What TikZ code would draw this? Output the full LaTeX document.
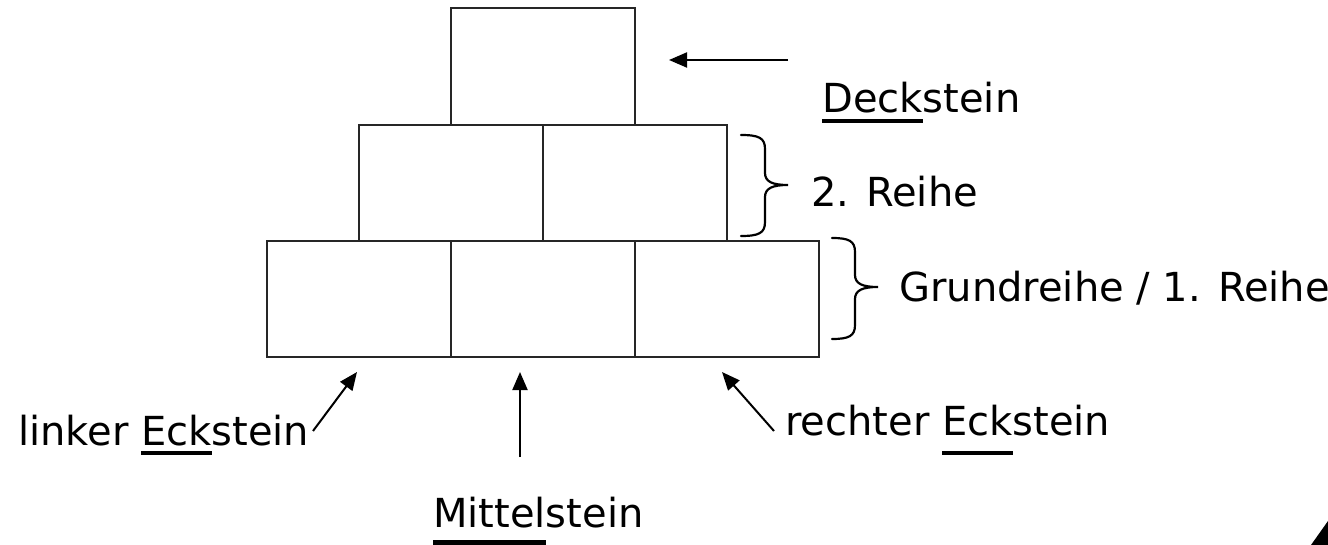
\documentclass[tikz,border=0pt]{standalone}
\usepackage{fontspec}
\setmainfont{DejaVu Sans}
\usetikzlibrary{arrows.meta}
\newcommand\ulx[3]{\leavevmode\setbox0\hbox{#3}\rlap{\rule[-#1]{\wd0}{#2}}\box0}
\newcommand\bracepath[6]{%
  \draw[bracestyle] (#1,#4) .. controls (#2-6,#4) and (#2,#4+3) .. (#2,#4+14)
    -- (#2,#5-12) .. controls (#2,#5-3) and (#2+8,#5) .. (#3,#5)
    .. controls (#2+8,#5) and (#2,#5+3) .. (#2,#5+12)
    -- (#2,#6-14) .. controls (#2,#6-3) and (#2-6,#6) .. (#1,#6);}
\begin{document}
\begin{tikzpicture}[x=1pt,y=-1pt,
  brick/.style={draw=black!85, line width=1.6pt, minimum width=184pt, minimum height=116pt, inner sep=0pt, outer sep=0pt},
  lbl/.style={anchor=base west, inner sep=0pt, font=\fontsize{40}{48}\selectfont},
  arr/.style={line width=2pt, -{Triangle[length=18pt,width=15pt]}},
  bracestyle/.style={line width=2.2pt, line cap=round}]
\useasboundingbox (0,0) rectangle (1328,545);
% bricks
\node[brick, minimum height=117pt] (top) at (543,66.5) {};
\node[brick] (r2a) at (451,183) {};
\node[brick] (r2b) at (635,183) {};
\node[brick] (r1a) at (359,299) {};
\node[brick] (r1b) at (543,299) {};
\node[brick] (r1c) at (727,299) {};
% labels
\node[lbl] (deck) at (822,113) {\ulx{10pt}{4pt}{Deck}stein};
\node[lbl] (reihe2) at (811,207) {2. Reihe};
\node[lbl] (grund) at (899,302) {Grundreihe / 1. Reihe};
\node[lbl] (linker) at (18,445) {linker \ulx{10pt}{4pt}{Eck}stein};
\node[lbl] (rechter) at (785,435) {rechter \ulx{20pt}{4pt}{Eck}stein};
\node[lbl] (mittel) at (433,527) {\ulx{18pt}{5pt}{Mittel}stein};
% arrows
\coordinate (dA) at (788,60);
\coordinate (dB) at (669,60);
\coordinate (lA) at (313,431);
\coordinate (lB) at (357,372);
\coordinate (mA) at (520,457);
\coordinate (mB) at (520,372);
\coordinate (rA) at (774,431);
\coordinate (rB) at (722,372);
\draw[arr] (dA) -- (dB);
\draw[arr] (lA) -- (lB);
\draw[arr] (mA) -- (mB);
\draw[arr] (rA) -- (rB);
% braces
\bracepath{741}{765}{788}{135}{185}{236}
\bracepath{832}{855}{878}{238}{287}{339}
% corner mark
\fill (1311,545) -- (1328,521) -- (1328,545) -- cycle;
\end{tikzpicture}
\end{document}
